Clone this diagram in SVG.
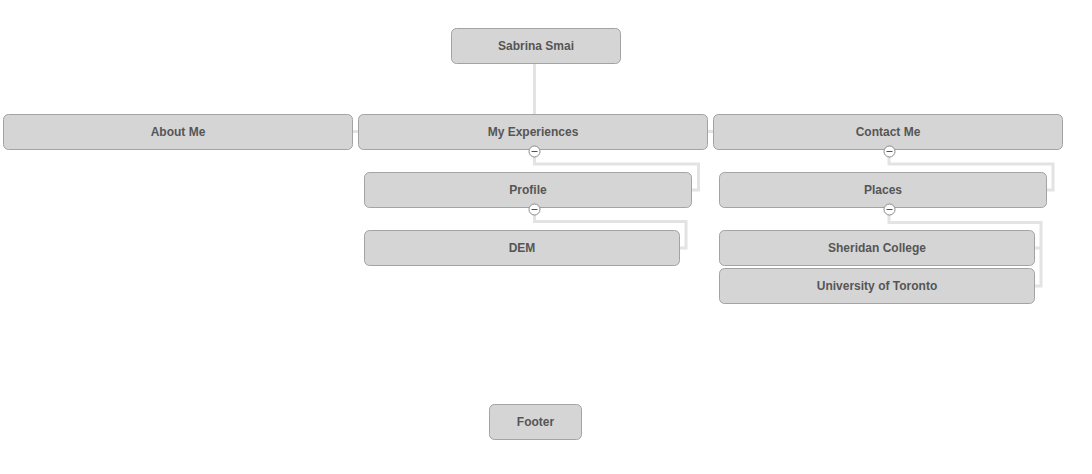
<svg xmlns="http://www.w3.org/2000/svg" width="1092" height="474" viewBox="0 0 1092 474">
<style>
.n rect{fill:#d5d5d5;stroke:#a3a3a3;stroke-width:1}
.n text{font-family:"Liberation Sans",Arial,sans-serif;font-weight:bold;font-size:12px;fill:#555;text-anchor:middle}
.c path{fill:none;stroke:#e3e3e3;stroke-width:3}
.t circle{fill:#fff;stroke:#8a8a8a;stroke-width:1}
.t line{stroke:#555;stroke-width:1}
</style>
<rect width="1092" height="474" fill="#fff"/>
<g class="c" id="connectors">
<path d="M534.5 63.5V114.5"/>
<path d="M352.5 131.5H358.5"/>
<path d="M707.5 131.5H713.5"/>
<path d="M534.5 151V164H698.5V190H691.5"/>
<path d="M534.5 209V221.5H686V248H679.5"/>
<path d="M889 151V164H1053V190H1046.5"/>
<path d="M889 209V222.5H1041V286H1034.5"/>
<path d="M1041 248H1034.5"/>
</g>
<g class="n" id="n-sabrina"><rect x="451.5" y="28.5" width="169" height="35" rx="5"/><text x="536" y="50">Sabrina Smai</text></g>
<g class="n" id="n-about"><rect x="3.5" y="114.5" width="349" height="35" rx="5"/><text x="178" y="136">About Me</text></g>
<g class="n" id="n-exp"><rect x="358.5" y="114.5" width="349" height="35" rx="5"/><text x="533" y="136">My Experiences</text></g>
<g class="n" id="n-contact"><rect x="713.5" y="114.5" width="349" height="35" rx="5"/><text x="888" y="136">Contact Me</text></g>
<g class="n" id="n-profile"><rect x="364.5" y="172.5" width="327" height="35" rx="5"/><text x="528" y="194">Profile</text></g>
<g class="n" id="n-dem"><rect x="364.5" y="230.5" width="315" height="35" rx="5"/><text x="522" y="252">DEM</text></g>
<g class="n" id="n-places"><rect x="719.5" y="172.5" width="327" height="35" rx="5"/><text x="883" y="194">Places</text></g>
<g class="n" id="n-sheridan"><rect x="719.5" y="230.5" width="315" height="35" rx="5"/><text x="877" y="252">Sheridan College</text></g>
<g class="n" id="n-uoft"><rect x="719.5" y="268.5" width="315" height="35" rx="5"/><text x="877" y="290">University of Toronto</text></g>
<g class="n" id="n-footer"><rect x="489.5" y="404.5" width="92" height="35" rx="5"/><text x="535.5" y="426">Footer</text></g>
<g class="t" id="toggles">
<g><circle cx="534.5" cy="151.5" r="5.5"/><line x1="531.5" y1="151.5" x2="537.5" y2="151.5"/></g>
<g><circle cx="534.5" cy="209.5" r="5.5"/><line x1="531.5" y1="209.5" x2="537.5" y2="209.5"/></g>
<g><circle cx="889.5" cy="151.5" r="5.5"/><line x1="886.5" y1="151.5" x2="892.5" y2="151.5"/></g>
<g><circle cx="889.5" cy="209.5" r="5.5"/><line x1="886.5" y1="209.5" x2="892.5" y2="209.5"/></g>
</g>
</svg>
